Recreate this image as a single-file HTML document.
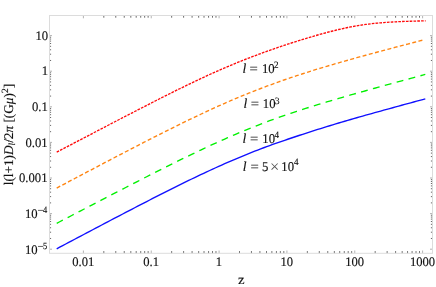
<!DOCTYPE html>
<html><head><meta charset="utf-8"><title>plot</title>
<style>
html,body{margin:0;padding:0;background:#fff;}
body{width:436px;height:287px;overflow:hidden;}
svg{display:block;font-family:"Liberation Serif",serif;}
</style></head><body>
<svg width="436" height="287" viewBox="0 0 436 287">
<rect x="0" y="0" width="436" height="287" fill="#fff"/>
<path d="M83.40 253.3 v-2.8 M83.40 15.5 v2.8 M151.24 253.3 v-2.8 M151.24 15.5 v2.8 M219.08 253.3 v-2.8 M219.08 15.5 v2.8 M286.92 253.3 v-2.8 M286.92 15.5 v2.8 M354.76 253.3 v-2.8 M354.76 15.5 v2.8 M422.60 253.3 v-2.8 M422.60 15.5 v2.8 M49.5 249.20 h2.5 M432.5 249.20 h-2.5 M49.5 213.60 h2.5 M432.5 213.60 h-2.5 M49.5 178.00 h2.5 M432.5 178.00 h-2.5 M49.5 142.40 h2.5 M432.5 142.40 h-2.5 M49.5 106.80 h2.5 M432.5 106.80 h-2.5 M49.5 71.20 h2.5 M432.5 71.20 h-2.5 M49.5 35.60 h2.5 M432.5 35.60 h-2.5" stroke="#a0a0a0" stroke-width="0.8" fill="none"/>
<path d="M103.82 253.3 v-2.2 M103.82 15.5 v2.2 M115.77 253.3 v-2.2 M115.77 15.5 v2.2 M124.24 253.3 v-2.2 M124.24 15.5 v2.2 M130.82 253.3 v-2.2 M130.82 15.5 v2.2 M136.19 253.3 v-2.2 M136.19 15.5 v2.2 M140.73 253.3 v-2.2 M140.73 15.5 v2.2 M144.67 253.3 v-2.2 M144.67 15.5 v2.2 M148.14 253.3 v-2.2 M148.14 15.5 v2.2 M171.66 253.3 v-2.2 M171.66 15.5 v2.2 M183.61 253.3 v-2.2 M183.61 15.5 v2.2 M192.08 253.3 v-2.2 M192.08 15.5 v2.2 M198.66 253.3 v-2.2 M198.66 15.5 v2.2 M204.03 253.3 v-2.2 M204.03 15.5 v2.2 M208.57 253.3 v-2.2 M208.57 15.5 v2.2 M212.51 253.3 v-2.2 M212.51 15.5 v2.2 M215.98 253.3 v-2.2 M215.98 15.5 v2.2 M239.50 253.3 v-2.2 M239.50 15.5 v2.2 M251.45 253.3 v-2.2 M251.45 15.5 v2.2 M259.92 253.3 v-2.2 M259.92 15.5 v2.2 M266.50 253.3 v-2.2 M266.50 15.5 v2.2 M271.87 253.3 v-2.2 M271.87 15.5 v2.2 M276.41 253.3 v-2.2 M276.41 15.5 v2.2 M280.35 253.3 v-2.2 M280.35 15.5 v2.2 M283.82 253.3 v-2.2 M283.82 15.5 v2.2 M307.34 253.3 v-2.2 M307.34 15.5 v2.2 M319.29 253.3 v-2.2 M319.29 15.5 v2.2 M327.76 253.3 v-2.2 M327.76 15.5 v2.2 M334.34 253.3 v-2.2 M334.34 15.5 v2.2 M339.71 253.3 v-2.2 M339.71 15.5 v2.2 M344.25 253.3 v-2.2 M344.25 15.5 v2.2 M348.19 253.3 v-2.2 M348.19 15.5 v2.2 M351.66 253.3 v-2.2 M351.66 15.5 v2.2 M375.18 253.3 v-2.2 M375.18 15.5 v2.2 M387.13 253.3 v-2.2 M387.13 15.5 v2.2 M395.60 253.3 v-2.2 M395.60 15.5 v2.2 M402.18 253.3 v-2.2 M402.18 15.5 v2.2 M407.55 253.3 v-2.2 M407.55 15.5 v2.2 M412.09 253.3 v-2.2 M412.09 15.5 v2.2 M416.03 253.3 v-2.2 M416.03 15.5 v2.2 M419.50 253.3 v-2.2 M419.50 15.5 v2.2 M49.5 238.48 h1.60 M432.5 238.48 h-1.60 M49.5 232.21 h1.60 M432.5 232.21 h-1.60 M49.5 227.77 h1.60 M432.5 227.77 h-1.60 M49.5 224.32 h1.60 M432.5 224.32 h-1.60 M49.5 221.50 h1.60 M432.5 221.50 h-1.60 M49.5 219.11 h1.60 M432.5 219.11 h-1.60 M49.5 217.05 h1.60 M432.5 217.05 h-1.60 M49.5 215.23 h1.60 M432.5 215.23 h-1.60 M49.5 202.88 h1.60 M432.5 202.88 h-1.60 M49.5 196.61 h1.60 M432.5 196.61 h-1.60 M49.5 192.17 h1.60 M432.5 192.17 h-1.60 M49.5 188.72 h1.60 M432.5 188.72 h-1.60 M49.5 185.90 h1.60 M432.5 185.90 h-1.60 M49.5 183.51 h1.60 M432.5 183.51 h-1.60 M49.5 181.45 h1.60 M432.5 181.45 h-1.60 M49.5 179.63 h1.60 M432.5 179.63 h-1.60 M49.5 167.28 h1.60 M432.5 167.28 h-1.60 M49.5 161.01 h1.60 M432.5 161.01 h-1.60 M49.5 156.57 h1.60 M432.5 156.57 h-1.60 M49.5 153.12 h1.60 M432.5 153.12 h-1.60 M49.5 150.30 h1.60 M432.5 150.30 h-1.60 M49.5 147.91 h1.60 M432.5 147.91 h-1.60 M49.5 145.85 h1.60 M432.5 145.85 h-1.60 M49.5 144.03 h1.60 M432.5 144.03 h-1.60 M49.5 131.68 h1.60 M432.5 131.68 h-1.60 M49.5 125.41 h1.60 M432.5 125.41 h-1.60 M49.5 120.97 h1.60 M432.5 120.97 h-1.60 M49.5 117.52 h1.60 M432.5 117.52 h-1.60 M49.5 114.70 h1.60 M432.5 114.70 h-1.60 M49.5 112.31 h1.60 M432.5 112.31 h-1.60 M49.5 110.25 h1.60 M432.5 110.25 h-1.60 M49.5 108.43 h1.60 M432.5 108.43 h-1.60 M49.5 96.08 h1.60 M432.5 96.08 h-1.60 M49.5 89.81 h1.60 M432.5 89.81 h-1.60 M49.5 85.37 h1.60 M432.5 85.37 h-1.60 M49.5 81.92 h1.60 M432.5 81.92 h-1.60 M49.5 79.10 h1.60 M432.5 79.10 h-1.60 M49.5 76.71 h1.60 M432.5 76.71 h-1.60 M49.5 74.65 h1.60 M432.5 74.65 h-1.60 M49.5 72.83 h1.60 M432.5 72.83 h-1.60 M49.5 60.48 h1.60 M432.5 60.48 h-1.60 M49.5 54.21 h1.60 M432.5 54.21 h-1.60 M49.5 49.77 h1.60 M432.5 49.77 h-1.60 M49.5 46.32 h1.60 M432.5 46.32 h-1.60 M49.5 43.50 h1.60 M432.5 43.50 h-1.60 M49.5 41.11 h1.60 M432.5 41.11 h-1.60 M49.5 39.05 h1.60 M432.5 39.05 h-1.60 M49.5 37.23 h1.60 M432.5 37.23 h-1.60" stroke="#444" stroke-width="0.8" fill="none"/>
<rect x="49.5" y="15.5" width="383.00" height="237.80" fill="none" stroke="#dcdcdc" stroke-width="1"/>
<path d="M56.70 248.80 L59.70 247.20 L62.70 245.61 L65.70 244.02 L68.70 242.43 L71.70 240.85 L74.70 239.26 L77.70 237.67 L80.70 236.08 L83.70 234.50 L86.70 232.91 L89.70 231.33 L92.70 229.74 L95.70 228.16 L98.70 226.58 L101.70 225.00 L104.70 223.42 L107.70 221.85 L110.70 220.27 L113.70 218.70 L116.70 217.13 L119.70 215.56 L122.70 213.99 L125.70 212.43 L128.70 210.86 L131.70 209.30 L134.70 207.75 L137.70 206.19 L140.70 204.64 L143.70 203.09 L146.70 201.55 L149.70 200.01 L152.70 198.47 L155.70 196.94 L158.70 195.41 L161.70 193.89 L164.70 192.37 L167.70 190.86 L170.70 189.36 L173.70 187.86 L176.70 186.36 L179.70 184.88 L182.70 183.40 L185.70 181.93 L188.70 180.47 L191.70 179.01 L194.70 177.57 L197.70 176.13 L200.70 174.71 L203.70 173.29 L206.70 171.89 L209.70 170.49 L212.70 169.11 L215.70 167.74 L218.70 166.39 L221.70 165.04 L224.70 163.71 L227.70 162.39 L230.70 161.09 L233.70 159.80 L236.70 158.52 L239.70 157.26 L242.70 156.01 L245.70 154.78 L248.70 153.57 L251.70 152.37 L254.70 151.19 L257.70 150.03 L260.70 148.88 L263.70 147.75 L266.70 146.63 L269.70 145.53 L272.70 144.45 L275.70 143.38 L278.70 142.33 L281.70 141.29 L284.70 140.27 L287.70 139.25 L290.70 138.24 L293.70 137.24 L296.70 136.25 L299.70 135.26 L302.70 134.28 L305.70 133.31 L308.70 132.34 L311.70 131.37 L314.70 130.42 L317.70 129.46 L320.70 128.52 L323.70 127.58 L326.70 126.65 L329.70 125.73 L332.70 124.82 L335.70 123.91 L338.70 123.01 L341.70 122.12 L344.70 121.24 L347.70 120.36 L350.70 119.49 L353.70 118.63 L356.70 117.77 L359.70 116.92 L362.70 116.07 L365.70 115.22 L368.70 114.38 L371.70 113.54 L374.70 112.70 L377.70 111.87 L380.70 111.03 L383.70 110.20 L386.70 109.38 L389.70 108.55 L392.70 107.73 L395.70 106.91 L398.70 106.08 L401.70 105.27 L404.70 104.45 L407.70 103.63 L410.70 102.82 L413.70 102.00 L416.70 101.19 L419.70 100.38 L422.70 99.56 L425.30 98.86" fill="none" stroke="#1010ff" stroke-width="1.35"/>
<path d="M56.70 223.30 L59.70 221.73 L62.70 220.17 L65.70 218.61 L68.70 217.04 L71.70 215.48 L74.70 213.92 L77.70 212.36 L80.70 210.79 L83.70 209.23 L86.70 207.67 L89.70 206.11 L92.70 204.55 L95.70 203.00 L98.70 201.44 L101.70 199.88 L104.70 198.33 L107.70 196.77 L110.70 195.22 L113.70 193.67 L116.70 192.12 L119.70 190.57 L122.70 189.03 L125.70 187.48 L128.70 185.94 L131.70 184.40 L134.70 182.86 L137.70 181.32 L140.70 179.79 L143.70 178.25 L146.70 176.73 L149.70 175.20 L152.70 173.68 L155.70 172.16 L158.70 170.65 L161.70 169.14 L164.70 167.63 L167.70 166.13 L170.70 164.63 L173.70 163.14 L176.70 161.66 L179.70 160.18 L182.70 158.71 L185.70 157.24 L188.70 155.78 L191.70 154.33 L194.70 152.89 L197.70 151.46 L200.70 150.03 L203.70 148.62 L206.70 147.22 L209.70 145.82 L212.70 144.44 L215.70 143.07 L218.70 141.71 L221.70 140.36 L224.70 139.03 L227.70 137.71 L230.70 136.40 L233.70 135.11 L236.70 133.83 L239.70 132.56 L242.70 131.31 L245.70 130.08 L248.70 128.86 L251.70 127.65 L254.70 126.46 L257.70 125.29 L260.70 124.13 L263.70 122.99 L266.70 121.86 L269.70 120.74 L272.70 119.65 L275.70 118.56 L278.70 117.49 L281.70 116.43 L284.70 115.39 L287.70 114.36 L290.70 113.34 L293.70 112.34 L296.70 111.34 L299.70 110.36 L302.70 109.39 L305.70 108.43 L308.70 107.48 L311.70 106.54 L314.70 105.61 L317.70 104.68 L320.70 103.77 L323.70 102.86 L326.70 101.96 L329.70 101.06 L332.70 100.17 L335.70 99.29 L338.70 98.41 L341.70 97.54 L344.70 96.68 L347.70 95.82 L350.70 94.96 L353.70 94.11 L356.70 93.26 L359.70 92.41 L362.70 91.57 L365.70 90.73 L368.70 89.89 L371.70 89.06 L374.70 88.23 L377.70 87.40 L380.70 86.57 L383.70 85.75 L386.70 84.93 L389.70 84.10 L392.70 83.28 L395.70 82.47 L398.70 81.65 L401.70 80.83 L404.70 80.02 L407.70 79.21 L410.70 78.39 L413.70 77.58 L416.70 76.77 L419.70 75.96 L422.70 75.15 L425.30 74.45" fill="none" stroke="#00f000" stroke-width="1.35" stroke-dasharray="6.9 5.41"/>
<path d="M56.70 188.05 L59.70 186.46 L62.70 184.87 L65.70 183.28 L68.70 181.69 L71.70 180.11 L74.70 178.52 L77.70 176.94 L80.70 175.35 L83.70 173.77 L86.70 172.19 L89.70 170.61 L92.70 169.03 L95.70 167.45 L98.70 165.87 L101.70 164.30 L104.70 162.72 L107.70 161.15 L110.70 159.58 L113.70 158.01 L116.70 156.45 L119.70 154.88 L122.70 153.32 L125.70 151.76 L128.70 150.21 L131.70 148.65 L134.70 147.10 L137.70 145.55 L140.70 144.01 L143.70 142.47 L146.70 140.93 L149.70 139.40 L152.70 137.87 L155.70 136.35 L158.70 134.83 L161.70 133.32 L164.70 131.81 L167.70 130.31 L170.70 128.81 L173.70 127.32 L176.70 125.84 L179.70 124.36 L182.70 122.89 L185.70 121.43 L188.70 119.98 L191.70 118.54 L194.70 117.10 L197.70 115.68 L200.70 114.26 L203.70 112.85 L206.70 111.46 L209.70 110.07 L212.70 108.70 L215.70 107.34 L218.70 105.99 L221.70 104.65 L224.70 103.33 L227.70 102.01 L230.70 100.71 L233.70 99.43 L236.70 98.16 L239.70 96.90 L242.70 95.66 L245.70 94.43 L248.70 93.21 L251.70 92.01 L254.70 90.82 L257.70 89.65 L260.70 88.50 L263.70 87.35 L266.70 86.22 L269.70 85.11 L272.70 84.01 L275.70 82.92 L278.70 81.85 L281.70 80.79 L284.70 79.75 L287.70 78.72 L290.70 77.70 L293.70 76.69 L296.70 75.69 L299.70 74.71 L302.70 73.74 L305.70 72.77 L308.70 71.82 L311.70 70.88 L314.70 69.95 L317.70 69.03 L320.70 68.11 L323.70 67.21 L326.70 66.31 L329.70 65.42 L332.70 64.54 L335.70 63.67 L338.70 62.80 L341.70 61.94 L344.70 61.09 L347.70 60.24 L350.70 59.39 L353.70 58.55 L356.70 57.72 L359.70 56.89 L362.70 56.07 L365.70 55.25 L368.70 54.43 L371.70 53.62 L374.70 52.81 L377.70 52.00 L380.70 51.20 L383.70 50.40 L386.70 49.60 L389.70 48.80 L392.70 48.01 L395.70 47.22 L398.70 46.43 L401.70 45.64 L404.70 44.86 L407.70 44.08 L410.70 43.29 L413.70 42.51 L416.70 41.73 L419.70 40.96 L422.70 40.18 L423.00 40.10" fill="none" stroke="#ff8410" stroke-width="1.35" stroke-dasharray="4.0 2.425"/>
<path d="M56.70 152.14 L59.70 150.57 L62.70 149.00 L65.70 147.43 L68.70 145.86 L71.70 144.29 L74.70 142.72 L77.70 141.15 L80.70 139.58 L83.70 138.01 L86.70 136.44 L89.70 134.88 L92.70 133.31 L95.70 131.75 L98.70 130.18 L101.70 128.62 L104.70 127.05 L107.70 125.49 L110.70 123.93 L113.70 122.37 L116.70 120.81 L119.70 119.25 L122.70 117.70 L125.70 116.14 L128.70 114.59 L131.70 113.04 L134.70 111.50 L137.70 109.95 L140.70 108.41 L143.70 106.87 L146.70 105.33 L149.70 103.80 L152.70 102.27 L155.70 100.75 L158.70 99.23 L161.70 97.71 L164.70 96.20 L167.70 94.70 L170.70 93.20 L173.70 91.71 L176.70 90.22 L179.70 88.75 L182.70 87.28 L185.70 85.82 L188.70 84.37 L191.70 82.92 L194.70 81.49 L197.70 80.07 L200.70 78.66 L203.70 77.27 L206.70 75.88 L209.70 74.51 L212.70 73.16 L215.70 71.81 L218.70 70.49 L221.70 69.17 L224.70 67.88 L227.70 66.59 L230.70 65.33 L233.70 64.08 L236.70 62.85 L239.70 61.63 L242.70 60.43 L245.70 59.25 L248.70 58.08 L251.70 56.93 L254.70 55.79 L257.70 54.67 L260.70 53.57 L263.70 52.47 L266.70 51.40 L269.70 50.33 L272.70 49.29 L275.70 48.25 L278.70 47.23 L281.70 46.22 L284.70 45.22 L287.70 44.23 L290.70 43.25 L293.70 42.29 L296.70 41.34 L299.70 40.40 L302.70 39.47 L305.70 38.55 L308.70 37.65 L311.70 36.76 L314.70 35.88 L317.70 35.02 L320.70 34.18 L323.70 33.35 L326.70 32.54 L329.70 31.75 L332.70 30.98 L335.70 30.24 L338.70 29.52 L341.70 28.83 L344.70 28.16 L347.70 27.53 L350.70 26.93 L353.70 26.37 L356.70 25.83 L359.70 25.34 L362.70 24.88 L365.70 24.45 L368.70 24.06 L371.70 23.70 L374.70 23.37 L377.70 23.08 L380.70 22.81 L383.70 22.56 L386.70 22.35 L389.70 22.15 L392.70 21.97 L395.70 21.81 L398.70 21.67 L401.70 21.54 L404.70 21.42 L407.70 21.32 L410.70 21.22 L413.70 21.14 L416.70 21.05 L419.70 20.98 L422.70 20.91 L425.70 20.85" fill="none" stroke="#ff0a0a" stroke-width="1.35" stroke-dasharray="2.65 1.15"/>
<g font-size="13.0" fill="#111" stroke="#111" stroke-width="0.15" style="filter:grayscale(1);text-rendering:geometricPrecision">
<text transform="translate(83.30 265.90) scale(0.97 1)" font-size="13.0" text-anchor="middle">0.01</text>
<text transform="translate(151.14 265.90) scale(0.97 1)" font-size="13.0" text-anchor="middle">0.1</text>
<text transform="translate(218.98 265.90) scale(0.97 1)" font-size="13.0" text-anchor="middle">1</text>
<text transform="translate(286.82 265.90) scale(0.97 1)" font-size="13.0" text-anchor="middle">10</text>
<text transform="translate(354.66 265.90) scale(0.97 1)" font-size="13.0" text-anchor="middle">100</text>
<text transform="translate(422.50 265.90) scale(0.97 1)" font-size="13.0" text-anchor="middle">1000</text>
<text transform="translate(48.10 39.70) scale(0.975 1)" font-size="13.0" text-anchor="end">10</text>
<text transform="translate(48.00 75.30) scale(0.975 1)" font-size="13.0" text-anchor="end">1</text>
<text transform="translate(47.80 110.90) scale(0.975 1)" font-size="13.0" text-anchor="end">0.1</text>
<text transform="translate(47.70 146.50) scale(0.975 1)" font-size="13.0" text-anchor="end">0.01</text>
<text transform="translate(47.50 182.10) scale(0.975 1)" font-size="13.0" text-anchor="end">0.001</text>
<text transform="translate(37.65 217.70) scale(0.975 1)" font-size="13.0" text-anchor="end">10</text>
<path d="M38.0 210.40 H43.2" stroke="#222" stroke-width="0.7" fill="none"/>
<text transform="translate(43.10 212.80) scale(0.88 1)" font-size="9.6">4</text>
<text transform="translate(37.65 253.75) scale(0.975 1)" font-size="13.0" text-anchor="end">10</text>
<path d="M38.0 246.45 H43.2" stroke="#222" stroke-width="0.7" fill="none"/>
<text transform="translate(43.10 248.85) scale(0.88 1)" font-size="9.6">5</text>
<text transform="translate(241.20 284.10) scale(1.1 1)" font-size="13.4" text-anchor="middle">z</text>
<text x="242.60" y="73.00" font-size="13.6" font-style="italic">l</text>
<text transform="translate(249.40 73.00) scale(1.1 1)" font-size="13.4" stroke="#111" stroke-width="0.12">=</text>
<text transform="translate(262.00 73.00) scale(0.95 1)" font-size="13.4">10</text>
<text transform="translate(274.10 68.20) scale(0.95 1)" font-size="9.6">2</text>
<text x="243.40" y="108.30" font-size="13.6" font-style="italic">l</text>
<text transform="translate(250.70 108.30) scale(1.1 1)" font-size="13.4" stroke="#111" stroke-width="0.12">=</text>
<text transform="translate(262.80 108.30) scale(0.95 1)" font-size="13.4">10</text>
<text transform="translate(274.90 103.50) scale(0.95 1)" font-size="9.6">3</text>
<text x="242.60" y="142.80" font-size="13.6" font-style="italic">l</text>
<text transform="translate(250.10 142.80) scale(1.1 1)" font-size="13.4" stroke="#111" stroke-width="0.12">=</text>
<text transform="translate(262.30 142.80) scale(0.95 1)" font-size="13.4">10</text>
<text transform="translate(274.40 138.00) scale(0.95 1)" font-size="9.6">4</text>
<text x="242.70" y="170.80" font-size="13.6" font-style="italic">l</text>
<text transform="translate(250.40 170.80) scale(1.1 1)" font-size="13.4" stroke="#111" stroke-width="0.12">=</text>
<text transform="translate(262.00 170.80) scale(0.95 1)" font-size="13.4">5</text>
<text x="269.90" y="172.20" font-size="16.4" fill="#555" stroke="none">×</text>
<text transform="translate(281.30 170.80) scale(0.95 1)" font-size="13.4">10</text>
<text transform="translate(294.00 164.60) scale(0.95 1)" font-size="9.6">4</text>
<text transform="translate(13.4 185.3) rotate(-90)" font-size="13.25">l(l+1)<tspan font-style="italic">D</tspan><tspan font-style="italic" font-size="9.2" dy="1.4">l</tspan><tspan dy="-1.4">/2</tspan><tspan font-style="italic">π</tspan> [(G<tspan font-style="italic">μ</tspan>)<tspan font-size="9.5" dy="-5.6">2</tspan><tspan dy="5.6">]</tspan></text>
</g>
</svg>
</body></html>
